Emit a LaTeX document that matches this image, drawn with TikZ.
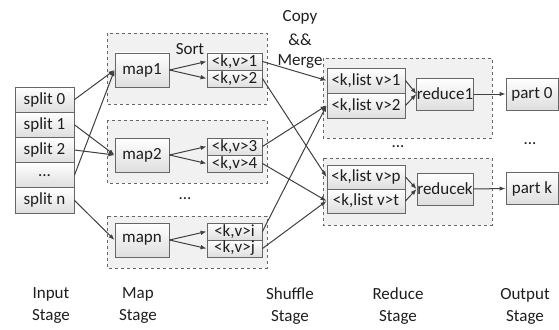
\documentclass[tikz,border=0pt]{standalone}
\usepackage{fontspec}
\setmainfont{Carlito}
\usetikzlibrary{arrows.meta,shadings}
\definecolor{lc}{HTML}{404040}
\definecolor{bc}{HTML}{666666}
\definecolor{tc}{HTML}{1E1E1E}
\definecolor{gfill}{HTML}{F1F1F1}
\begin{document}
\begin{tikzpicture}[x=1pt,y=-1pt,
  every node/.style={text=tc,font=\fontsize{17}{20}\selectfont},
  cell/.style={draw=bc,line width=0.9pt,top color=white,bottom color=black!13,inner sep=0pt,minimum width=#1},
  grp/.style={draw=bc,dashed,line width=0.8pt,fill=gfill},
  conn/.style={draw=lc,line width=1pt,-{Latex[length=6pt,width=4.5pt]}},
  lbl/.style={align=center,inner sep=0pt}]
\useasboundingbox (0,0) rectangle (559,329);
% groups
\draw[grp] (107,33) rectangle (267,104);
\draw[grp] (107,120) rectangle (267,183);
\draw[grp] (107,216) rectangle (267,268);
\draw[grp] (323,58) rectangle (492,138);
\draw[grp] (323,158) rectangle (492,225);
% input splits
\node[cell=59pt,minimum height=25.2pt] (s0) at (44.5,99.6) {split 0};
\node[cell=59pt,minimum height=25.2pt] (s1) at (44.5,124.8) {split 1};
\node[cell=59pt,minimum height=25.2pt] (s2) at (44.5,150) {split 2};
\node[cell=59pt,minimum height=25.2pt] (sd) at (44.5,175.2) {...};
\node[cell=59pt,minimum height=25.2pt] (sn) at (44.5,200.4) {split n};
% maps
\node[cell=54pt,minimum height=34pt] (m1) at (142,70) {map1};
\node[cell=54pt,minimum height=34pt] (m2) at (142,155) {map2};
\node[cell=54pt,minimum height=34pt] (mn) at (142,240) {mapn};
\node[cell=55pt,minimum height=17pt] (kv1) at (234.5,61.5) {<k,v>1};
\node[cell=55pt,minimum height=17pt] (kv2) at (234.5,78.5) {<k,v>2};
\node[cell=55pt,minimum height=17pt] (kv3) at (234.5,146.5) {<k,v>3};
\node[cell=55pt,minimum height=17pt] (kv4) at (234.5,163.5) {<k,v>4};
\node[cell=55pt,minimum height=17pt] (kvi) at (234.5,231.5) {<k,v>i};
\node[cell=55pt,minimum height=17pt] (kvj) at (234.5,248.5) {<k,v>j};
\node[lbl] (sort) at (190,49) {Sort};
\node[lbl] (mdots) at (185,199) {...};
% reduce
\node[cell=78pt,minimum height=25pt] (l1) at (366,80.5) {<k,list v>1};
\node[cell=78pt,minimum height=25pt] (l2) at (366,105.5) {<k,list v>2};
\node[cell=78pt,minimum height=24pt] (lp) at (366,177) {<k,list v>p};
\node[cell=78pt,minimum height=24pt] (lt) at (366,201) {<k,list v>t};
\node[cell=56pt,minimum height=32pt] (r1) at (445,94) {reduce1};
\node[cell=56pt,minimum height=32pt] (rk) at (445,189) {reducek};
\node[lbl] (rdots) at (398,147) {...};
% output
\node[cell=52pt,minimum height=32pt] (p0) at (532,94) {part 0};
\node[cell=52pt,minimum height=32pt] (pk) at (532,188.5) {part k};
\node[lbl] (pdots) at (530,144) {...};
% copy merge
\node[lbl] (copy) at (300,17) {Copy};
\node[lbl] (amp) at (300,39.5) {\&\&};
\node[lbl] (merge) at (300,62) {Merge};
% stage labels
\node[lbl] (st1) at (51,306) {Input\\[2pt]Stage};
\node[lbl] (st2) at (138,306) {Map\\[2pt]Stage};
\node[lbl] (st3) at (290,306) {Shuffle\\[2pt]Stage};
\node[lbl] (st4) at (398,306) {Reduce\\[2pt]Stage};
\node[lbl] (st5) at (525,306) {Output\\[2pt]Stage};
% input -> map
\draw[conn] (s0.east) -- (m1.west);
\draw[conn] (sd.east) -- (m1.west);
\draw[conn] (s1.east) -- (m2.west);
\draw[conn] (s2.east) -- (m2.west);
\draw[conn] (sn.east) -- (mn.west);
% map -> kv
\draw[conn] (m1.east) -- (kv1.west);
\draw[conn] (m1.east) -- (kv2.west);
\draw[conn] (m2.east) -- (kv3.west);
\draw[conn] (m2.east) -- (kv4.west);
\draw[conn] (mn.east) -- (kvi.west);
\draw[conn] (mn.east) -- (kvj.west);
% shuffle
\draw[conn] (kv1.east) -- (l1.west);
\draw[conn] (kv2.east) -- (lp.west);
\draw[conn] (kv3.east) -- (l2.west);
\draw[conn] (kv4.east) -- (lt.west);
\draw[conn] (kvi.east) -- (l2.west);
\draw[conn] (kvj.east) -- (lt.west);
% reduce
\draw[conn] (l1.east) -- (r1.west);
\draw[conn] (l2.east) -- (r1.west);
\draw[conn] (lp.east) -- (rk.west);
\draw[conn] (lt.east) -- (rk.west);
\draw[conn] (r1.east) -- (p0.west);
\draw[conn] (rk.east) -- (pk.west);
\end{tikzpicture}
\end{document}
